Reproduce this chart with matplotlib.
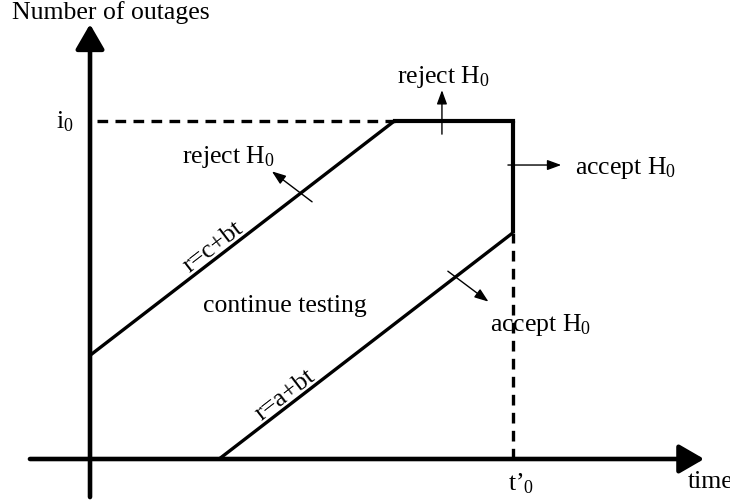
import matplotlib
matplotlib.use("Agg")
import matplotlib.pyplot as plt
import numpy as np

plt.rcParams['font.family'] = ['Liberation Serif', 'DejaVu Serif']
plt.rcParams['mathtext.fontset'] = 'custom'
plt.rcParams['mathtext.rm'] = 'Liberation Serif'
plt.rcParams['mathtext.it'] = 'Liberation Serif'

# Schematic parameters (diagram units)
a = -2.35      # intercept of lower boundary r = a + b t
b = 0.77       # common slope
c = 2.45       # intercept of upper boundary r = c + b t
i0 = 8.0       # outage limit
t0 = 10.0      # truncation time t'_0

labels = {
    'ylabel': 'Number of outages',
    'xlabel': 'time',
    'i0': 'i$_0$',
    't0': 't\u2019$_0$',
    'upper': 'r=c+bt',
    'lower': 'r=a+bt',
    'middle': 'continue testing',
    'reject': 'reject H$_0$',
    'accept': 'accept H$_0$',
}

fig = plt.figure(figsize=(7.30, 5.02), dpi=100)
ax = fig.add_axes([0, 0, 1, 1])
ax.set_xlim(-2.128, 15.13)
ax.set_ylim(-0.993, 10.875)
ax.axis('off')

FS = 18.5

# axes arrows
big = dict(arrowstyle='-|>,head_length=0.95,head_width=0.55',
           lw=3.3, color='k', mutation_scale=16, shrinkA=0, shrinkB=0)
ax.annotate('', xy=(0, 10.28), xytext=(0, -0.9), arrowprops=big)
ax.annotate('', xy=(14.52, 0), xytext=(-1.42, 0), arrowprops=big)

# upper boundary
t_hit = (i0 - c) / b
tt = np.array([0, t_hit])
ax.plot(tt, c + b * tt, color='k', lw=2.4, solid_capstyle='butt')
ax.plot([t_hit, t0], [i0, i0], color='k', lw=3.0, solid_capstyle='projecting')
# lower boundary
t_start = -a / b
tl = np.array([t_start, t0])
ax.plot(tl, a + b * tl, color='k', lw=2.4, solid_capstyle='butt')
ax.plot([t0, t0], [a + b * t0, i0], color='k', lw=3.0, solid_capstyle='butt')
# dashed guides
ax.plot([0.17, t_hit], [i0, i0], color='k', lw=2.4, linestyle=(0, (3.2, 2.2)))
ax.plot([t0, t0], [0, a + b * t0], color='k', lw=2.4, linestyle=(0, (3.2, 2.2)))

# small direction arrows
arr = dict(arrowstyle='-|>,head_length=0.6,head_width=0.22', lw=1.0, color='k',
           mutation_scale=14, shrinkA=0, shrinkB=0)
ax.annotate('', xy=(8.32, 8.72), xytext=(8.32, 7.68), arrowprops=arr)
ax.annotate('', xy=(11.14, 6.95), xytext=(9.88, 6.95), arrowprops=arr)
ax.annotate('', xy=(9.42, 3.72), xytext=(8.46, 4.44), arrowprops=arr)
ax.annotate('', xy=(4.30, 6.80), xytext=(5.25, 6.08), arrowprops=arr)

# texts
ax.text(-1.84, 10.59, labels['ylabel'], fontsize=FS, ha='left', va='center')
ax.text(14.14, -0.52, labels['xlabel'], fontsize=FS, ha='left', va='center')
ax.text(-0.38, 8.0, labels['i0'], fontsize=FS, ha='right', va='center')
ax.text(10.2, -0.55, labels['t0'], fontsize=FS, ha='center', va='center')
ax.text(8.35, 9.05, labels['reject'], fontsize=FS, ha='center', va='center')
ax.text(2.17, 7.16, labels['reject'], fontsize=FS, ha='left', va='center')
ax.text(11.47, 6.9, labels['accept'], fontsize=FS, ha='left', va='center')
ax.text(9.46, 3.19, labels['accept'], fontsize=FS, ha='left', va='center')
ax.text(4.61, 3.64, labels['middle'], fontsize=FS, ha='center', va='center')
ang = np.degrees(np.arctan(b))
ax.text(2.91, 5.04, labels['upper'], fontsize=FS, ha='center', va='center',
        rotation=ang, rotation_mode='anchor')
ax.text(4.61, 1.54, labels['lower'], fontsize=FS, ha='center', va='center',
        rotation=ang, rotation_mode='anchor')

fig.savefig('out.png', dpi=100)
